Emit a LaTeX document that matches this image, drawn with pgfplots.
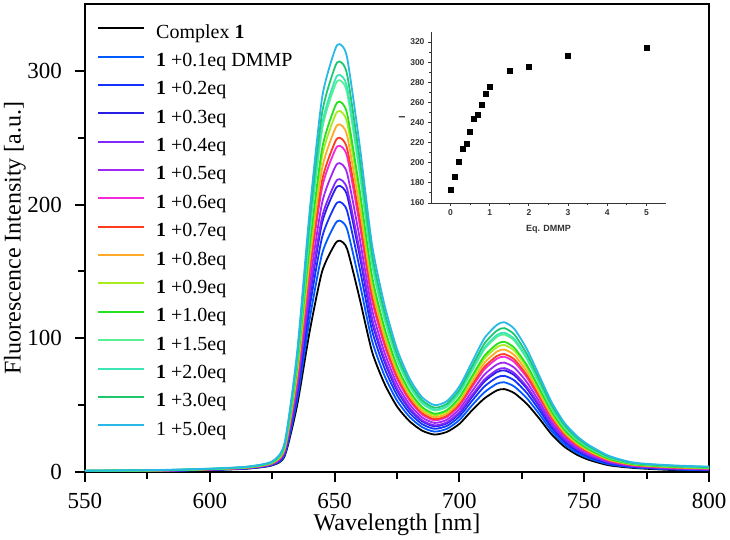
\documentclass[border=0pt]{standalone}
\usepackage{pgfplots}
\pgfplotsset{compat=1.18}
\usepackage{pgfplotstable}
\usepackage{fontspec}
\setmainfont{Liberation Serif}
\setsansfont{Liberation Sans}
\definecolor{c0}{RGB}{0,0,0}
\definecolor{c1}{RGB}{0,90,255}
\definecolor{c2}{RGB}{20,50,255}
\definecolor{c3}{RGB}{40,30,230}
\definecolor{c4}{RGB}{130,40,255}
\definecolor{c5}{RGB}{160,40,240}
\definecolor{c6}{RGB}{245,40,220}
\definecolor{c7}{RGB}{255,60,30}
\definecolor{c8}{RGB}{255,170,40}
\definecolor{c9}{RGB}{170,235,30}
\definecolor{c10}{RGB}{40,225,30}
\definecolor{c11}{RGB}{90,240,150}
\definecolor{c12}{RGB}{60,230,180}
\definecolor{c13}{RGB}{30,200,110}
\definecolor{c14}{RGB}{40,185,230}
\pgfplotstableread{
wl c0 c1 c2 c3 c4 c5 c6 c7 c8 c9 c10 c11 c12 c13 c14
550 0.5 0.6 0.6 0.6 0.7 0.7 0.7 0.8 0.8 0.8 0.9 0.9 0.9 1.0 1.0
580 0.8 0.9 0.9 1.0 1.0 1.1 1.1 1.2 1.2 1.3 1.3 1.4 1.4 1.4 1.5
600 1.5 1.6 1.7 1.8 1.8 1.9 2.0 2.0 2.1 2.2 2.2 2.3 2.3 2.4 2.5
615 2.5 2.7 2.8 2.9 3.0 3.1 3.2 3.3 3.4 3.5 3.6 3.7 3.8 3.9 4.0
625 5.0 5.3 5.6 5.8 5.9 6.2 6.4 6.6 6.8 7.0 7.1 7.4 7.5 7.7 8.0
630 12 13 14 14.8 15.1 16 16.8 17.2 17.9 18.6 19.1 20.2 20.4 21.1 22
635 50 54.1 57.9 61.2 62.5 65.8 69.3 71.0 73.7 76.4 78.3 82.6 83.8 86.5 90
640 105 114.2 122.7 130.1 133.2 140.6 148.5 152.2 158.3 164.4 168.6 178.4 181.0 187.1 195
645 150 163.3 175.6 186.3 190.7 201.4 212.8 218.1 227.0 235.8 241.9 256.1 259.7 268.6 280
650 170 184.8 198.6 210.5 215.4 227.3 240.0 246.0 255.8 265.7 272.5 288.3 292.4 302.2 315
652 173 188 202 214 219 231 244 250 260 270 277 293 297 307 320
655 167 181.6 195.2 206.9 211.8 223.5 236.1 241.9 251.7 261.4 268.1 283.7 287.7 297.4 310
660 130 141.7 152.7 162.1 166.0 175.4 185.5 190.3 198.1 205.9 211.3 223.8 227.1 234.9 245
665 90 98.2 105.8 112.3 115.0 121.6 128.6 131.9 137.4 142.8 146.6 155.3 157.5 163.0 170
670 66 72.0 77.6 82.5 84.5 89.3 94.5 96.9 100.9 104.9 107.7 114.1 115.8 119.8 125
675 49 53.4 57.5 61.0 62.5 66.0 69.8 71.5 74.5 77.4 79.4 84.1 85.3 88.2 92
680 38 41.3 44.3 46.9 48.0 50.6 53.5 54.8 56.9 59.1 60.6 64.1 65.0 67.2 70
685 31 33.6 35.9 38.0 38.8 40.9 43.1 44.1 45.8 47.5 48.7 51.4 52.1 53.8 56
690 28 30.2 32.3 34.1 34.9 36.7 38.6 39.5 41.0 42.5 43.6 46.0 46.6 48.1 50
695 30 32.3 34.5 36.4 37.2 39.1 41.1 42.1 43.6 45.2 46.3 48.8 49.4 51.0 53
700 36 38.9 41.5 43.8 44.8 47.1 49.5 50.7 52.6 54.5 55.8 58.8 59.6 61.5 64
705 46 49.7 53.1 56.0 57.3 60.2 63.4 64.9 67.3 69.8 71.5 75.4 76.4 78.8 82
710 55 59.6 63.9 67.6 69.1 72.8 76.7 78.6 81.6 84.7 86.8 91.7 93.0 96.0 100
715 61 66.0 70.7 74.7 76.3 80.4 84.7 86.7 90.0 93.3 95.6 101.0 102.4 105.7 110
718 62 67.1 71.9 76.0 77.7 81.8 86.2 88.2 91.6 95.0 97.4 102.8 104.2 107.6 112
722 59 63.9 68.5 72.4 74.0 78.0 82.2 84.2 87.4 90.7 92.9 98.2 99.5 102.8 107
727 51 55.2 59.1 62.4 63.8 67.2 70.8 72.5 75.3 78.1 80.0 84.5 85.6 88.4 92
732 40 43.3 46.3 48.9 50.0 52.6 55.5 56.8 58.9 61.1 62.6 66.1 67.0 69.2 72
737 28 30.4 32.7 34.7 35.5 37.5 39.6 40.6 42.2 43.8 45.0 47.6 48.3 49.9 52
742 19 20.8 22.5 24.0 24.6 26.1 27.7 28.4 29.7 30.9 31.7 33.7 34.2 35.4 37
747 13 14.4 15.8 16.9 17.4 18.5 19.8 20.3 21.3 22.2 22.9 24.4 24.8 25.8 27
752 9 10.1 11.2 12.1 12.4 13.3 14.3 14.8 15.5 16.3 16.8 18.0 18.3 19.0 20
760 5 5.7 6.4 7.0 7.2 7.8 8.4 8.7 9.1 9.6 9.9 10.7 10.9 11.4 12
770 3 3.4 3.8 4.1 4.3 4.6 4.9 5.1 5.4 5.6 5.8 6.3 6.4 6.6 7
785 1.5 1.9 2.2 2.5 2.6 2.9 3.2 3.3 3.6 3.8 4.0 4.4 4.5 4.7 5
800 1 1.3 1.6 1.8 1.9 2.2 2.4 2.6 2.8 3.0 3.1 3.4 3.5 3.7 4
}\spectra
\pgfplotstableread{
eq I
0 173
0.1 186
0.2 201
0.3 214
0.4 219
0.5 231
0.6 244
0.7 248
0.8 258
0.9 269
1.0 276
1.5 292
2.0 295
3.0 306
5.0 314
}\inset
\begin{document}
\begin{tikzpicture}
\path[use as bounding box] (-85pt,-68pt) rectangle (645pt,472pt);
\begin{axis}[
  at={(0pt,0pt)}, anchor=south west,
  width=624pt, height=468pt, scale only axis,
  xmin=550, xmax=800, ymin=0, ymax=350,
  xtick={550,600,650,700,750,800},
  ytick={0,100,200,300},
  minor x tick num=1, minor y tick num=1,
  tick align=outside, xtick pos=bottom, ytick pos=left,
  major tick length=10pt, minor tick length=7pt,
  axis line style={line width=2pt},
  tick style={line width=2pt, black},
  /pgf/number format/assume math mode=true,
  tick label style={font=\fontsize{23}{26}\selectfont},
  xticklabel style={inner sep=0pt, yshift=-11pt},
  yticklabel style={inner sep=0pt, xshift=-13pt},
  label style={font=\fontsize{24}{28}\selectfont},
  xlabel={Wavelength [nm]},
  ylabel={Fluorescence Intensity [a.u.]},
  xlabel style={at={(axis description cs:0.5,-0.1122)}, anchor=center, inner sep=0pt},
  ylabel style={at={(axis description cs:-0.1122,0.5)}, anchor=center},
  legend style={at={(axis description cs:0,1)}, anchor=north west,
    xshift=12pt, yshift=-19pt, draw=none, fill=none,
    inner sep=0pt, row sep=8.36pt,
    font=\fontsize{20}{24}\selectfont,
    nodes={inner xsep=11pt, inner ysep=0pt, text height=15pt, text depth=5pt}},
  legend cell align=left,
  legend image code/.code={\draw[#1, line width=2pt] (0pt,5pt) -- (46pt,5pt);},
  every axis plot/.append style={line width=1.8pt, smooth, tension=0.4},
]
\addplot[c0] table[x=wl, y=c0] {\spectra};
\addlegendentry{Complex \textbf{1}}
\addplot[c1] table[x=wl, y=c1] {\spectra};
\addlegendentry{\textbf{1} +0.1eq DMMP}
\addplot[c2] table[x=wl, y=c2] {\spectra};
\addlegendentry{\textbf{1} +0.2eq}
\addplot[c3] table[x=wl, y=c3] {\spectra};
\addlegendentry{\textbf{1} +0.3eq}
\addplot[c4] table[x=wl, y=c4] {\spectra};
\addlegendentry{\textbf{1} +0.4eq}
\addplot[c5] table[x=wl, y=c5] {\spectra};
\addlegendentry{\textbf{1} +0.5eq}
\addplot[c6] table[x=wl, y=c6] {\spectra};
\addlegendentry{\textbf{1} +0.6eq}
\addplot[c7] table[x=wl, y=c7] {\spectra};
\addlegendentry{\textbf{1} +0.7eq}
\addplot[c8] table[x=wl, y=c8] {\spectra};
\addlegendentry{\textbf{1} +0.8eq}
\addplot[c9] table[x=wl, y=c9] {\spectra};
\addlegendentry{\textbf{1} +0.9eq}
\addplot[c10] table[x=wl, y=c10] {\spectra};
\addlegendentry{\textbf{1} +1.0eq}
\addplot[c11] table[x=wl, y=c11] {\spectra};
\addlegendentry{\textbf{1} +1.5eq}
\addplot[c12] table[x=wl, y=c12] {\spectra};
\addlegendentry{\textbf{1} +2.0eq}
\addplot[c13] table[x=wl, y=c13] {\spectra};
\addlegendentry{\textbf{1} +3.0eq}
\addplot[c14] table[x=wl, y=c14] {\spectra};
\addlegendentry{1 +5.0eq}
\end{axis}
\begin{axis}[
  at={(346pt,269pt)}, anchor=south west,
  width=235pt, height=171pt, scale only axis,
  xmin=-0.5, xmax=5.5, ymin=160, ymax=330,
  axis x line*=bottom, axis y line*=left,
  xtick={0,1,2,3,4,5},
  ytick={160,180,200,220,240,260,280,300,320},
  minor x tick num=1, minor y tick num=1,
  tick align=outside,
  major tick length=3pt, minor tick length=2pt,
  axis line style={line width=0.9pt, black!80},
  tick style={line width=0.9pt, black!80},
  /pgf/number format/assume math mode=true,
  tick label style={font=\fontsize{8.5}{10}\sffamily\bfseries, text=black!80},
  label style={font=\fontsize{9}{10}\sffamily\bfseries, text=black!80},
  xlabel={Eq. DMMP}, ylabel={I},
  xlabel style={at={(axis description cs:0.5,-0.152)}, anchor=center},
  ylabel style={at={(axis description cs:-0.123,0.5)}, anchor=center},
]
\addplot[only marks, mark=square*, mark size=2.5pt, black] table[x=eq, y=I] {\inset};
\end{axis}
\end{tikzpicture}
\end{document}
